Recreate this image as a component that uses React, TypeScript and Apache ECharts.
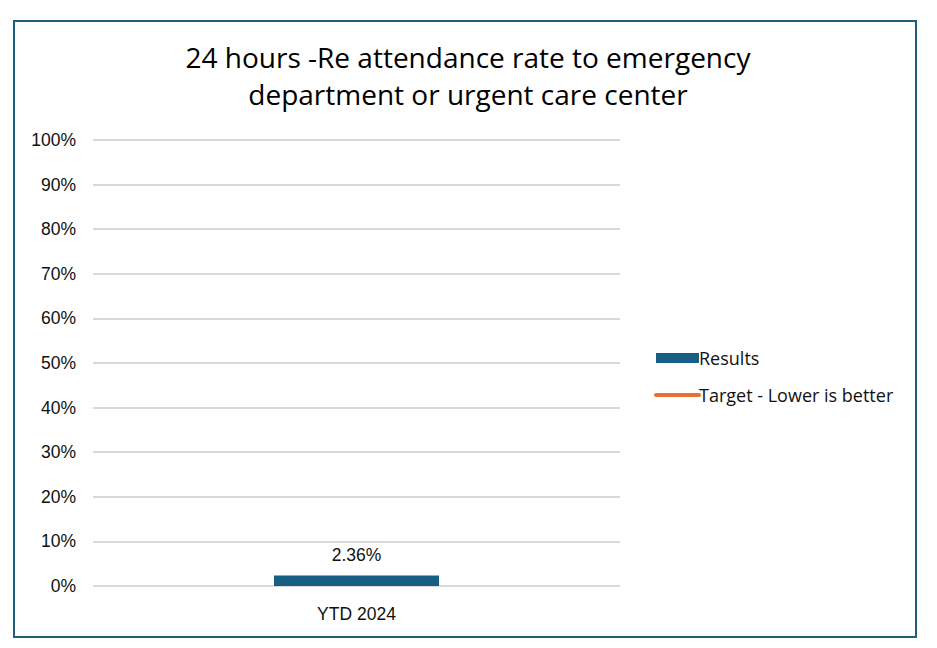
import { useEffect, useRef } from "react";
import * as echarts from "echarts";

// 数据
const categories = ["YTD 2024"];
const results = [0.0236];
const target: (number | null)[] = [null];
const yTicks = [0, 0.1, 0.2, 0.3, 0.4, 0.5, 0.6, 0.7, 0.8, 0.9, 1];

const TITLE = "24 hours -Re attendance rate to emergency\ndepartment or urgent care center";
const FONT = "'Liberation Sans', Arial, sans-serif";

function App() {
  const containerRef = useRef<HTMLDivElement>(null);

  useEffect(() => {
    if (!containerRef.current) return;
    const chart = echarts.init(containerRef.current, undefined, { renderer: "svg" });

    chart.setOption({
      animation: false,
      backgroundColor: "#fff",
      textStyle: { fontFamily: FONT },
      title: {
        text: TITLE,
        left: 463,
        top: 33,
        textAlign: "center",
        textStyle: {
          fontFamily: "'Open Sans', sans-serif",
          fontSize: 28,
          fontWeight: "normal",
          color: "#000",
          lineHeight: 37,
        },
      },
      graphic: [
        {
          type: "rect",
          shape: { x: 14, y: 21, width: 902, height: 616 },
          style: { fill: "none", stroke: "#1e5f7e", lineWidth: 2 },
          silent: true,
        },
      ],
      legend: {
        orient: "vertical",
        left: 654,
        top: 349,
        padding: 0,
        itemWidth: 43,
        itemHeight: 10,
        itemGap: 19,
        textStyle: {
          fontSize: 18,
          color: "#111",
          fontFamily: "'Open Sans', sans-serif",
          padding: [0, 0, 0, -5],
        },
        data: [
          { name: "Results", icon: "rect" },
          {
            name: "Target - Lower is better",
            itemStyle: { opacity: 0 },
            lineStyle: { color: "#e97132", width: 4, cap: "round" },
          },
        ],
      },
      grid: { left: 93, right: 317, top: 140, bottom: 62 },
      xAxis: {
        type: "category",
        data: categories,
        axisLine: { show: false },
        axisTick: { show: false },
        axisLabel: { fontSize: 17.5, color: "#111", margin: 19 },
      },
      yAxis: {
        type: "value",
        min: yTicks[0],
        max: yTicks[yTicks.length - 1],
        interval: 0.1,
        axisLine: { show: false },
        axisTick: { show: false },
        splitLine: { lineStyle: { color: "#d9d9d9", width: 2 } },
        axisLabel: {
          fontSize: 17.5,
          color: "#111",
          margin: 17,
          formatter: (v: number) => `${Math.round(v * 100)}%`,
        },
      },
      series: [
        {
          name: "Results",
          type: "bar",
          data: results,
          barWidth: 165,
          itemStyle: { color: "#165e83" },
          label: {
            show: true,
            position: "top",
            distance: 11,
            fontSize: 17.5,
            color: "#111",
            formatter: (p: { value: number }) => `${(p.value * 100).toFixed(2)}%`,
          },
        },
        {
          name: "Target - Lower is better",
          type: "line",
          data: target,
          symbol: "none",
          lineStyle: { color: "#e97132", width: 4 },
          itemStyle: { color: "#e97132" },
        },
      ],
    });

    return () => {
      chart.dispose();
    };
  }, []);

  return (
    <div
      ref={containerRef}
      style={{ position: "fixed", left: 0, top: 0, width: 937, height: 648 }}
    ></div>
  );
}

export default App;
